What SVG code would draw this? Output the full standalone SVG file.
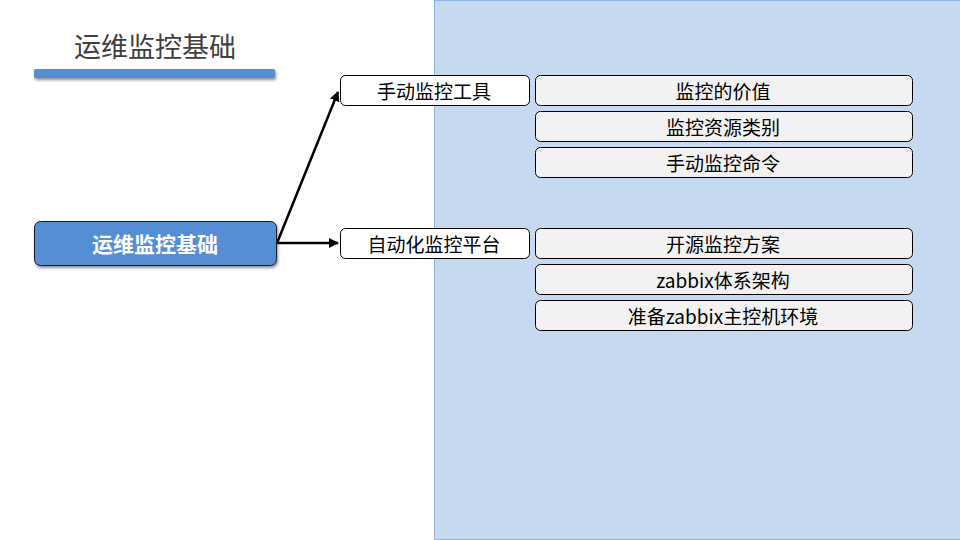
<svg xmlns="http://www.w3.org/2000/svg" width="960" height="540" viewBox="0 0 960 540">
<defs>
<style>
text{font-family:"Noto Sans CJK SC","Noto Sans",sans-serif;text-anchor:middle;dominant-baseline:central}
.l1{fill:#ffffff;stroke:#000;stroke-width:1}
.l2{fill:#f2f2f2;stroke:#000;stroke-width:1}
.t{font-size:19px;fill:#000}
.conn{stroke:#000;stroke-width:2.5;fill:none;marker-end:url(#ah)}
</style>
<marker id="ah" viewBox="0 0 10 10" refX="9" refY="5" markerWidth="4" markerHeight="4" orient="auto" markerUnits="strokeWidth">
<path d="M0,0 L10,5 L0,10 z" fill="#000"/>
</marker>
<filter id="sh" x="-10%" y="-50%" width="120%" height="200%">
<feDropShadow dx="1" dy="2" stdDeviation="1.5" flood-color="#000" flood-opacity="0.45"/>
</filter>
</defs>
<rect x="0" y="0" width="960" height="540" fill="#ffffff"/>
<rect x="434.5" y="0.5" width="526" height="539" fill="#c6d9f1" stroke="#8eb4e3" stroke-width="1"/>
<g id="title">
<text x="155" y="45" style="font-size:27px;fill:#404040">运维监控基础</text>
<rect x="34" y="69" width="241" height="9" rx="1.5" fill="#558ed5" filter="url(#sh)"/>
</g>
<g id="connectors">
<path class="conn" d="M277,243 L338,92"/>
<path class="conn" d="M277,243 L338,243"/>
</g>
<g id="root">
<rect x="34.5" y="221.5" width="242" height="44" rx="6" fill="#558ed5" stroke="#1f1f1f" stroke-width="1" filter="url(#sh)"/>
<text x="155" y="243" style="font-size:21px;font-weight:bold;fill:#ffffff">运维监控基础</text>
</g>
<g id="n1">
<rect class="l1" x="340.5" y="75.5" width="189" height="30" rx="5"/>
<text class="t" x="434" y="90">手动监控工具</text>
</g>
<g id="n2">
<rect class="l1" x="340.5" y="228.5" width="189" height="30" rx="5"/>
<text class="t" x="434" y="243">自动化监控平台</text>
</g>
<g id="n1a">
<rect class="l2" x="535.5" y="75.5" width="377" height="30" rx="5"/>
<text class="t" x="723" y="90">监控的价值</text>
</g>
<g id="n1b">
<rect class="l2" x="535.5" y="111.5" width="377" height="30" rx="5"/>
<text class="t" x="723" y="126">监控资源类别</text>
</g>
<g id="n1c">
<rect class="l2" x="535.5" y="147.5" width="377" height="30" rx="5"/>
<text class="t" x="723" y="162">手动监控命令</text>
</g>
<g id="n2a">
<rect class="l2" x="535.5" y="228.5" width="377" height="30" rx="5"/>
<text class="t" x="723" y="243">开源监控方案</text>
</g>
<g id="n2b">
<rect class="l2" x="535.5" y="264.5" width="377" height="30" rx="5"/>
<text class="t" x="723" y="279">zabbix体系架构</text>
</g>
<g id="n2c">
<rect class="l2" x="535.5" y="300.5" width="377" height="30" rx="5"/>
<text class="t" x="723" y="315">准备zabbix主控机环境</text>
</g>
</svg>
